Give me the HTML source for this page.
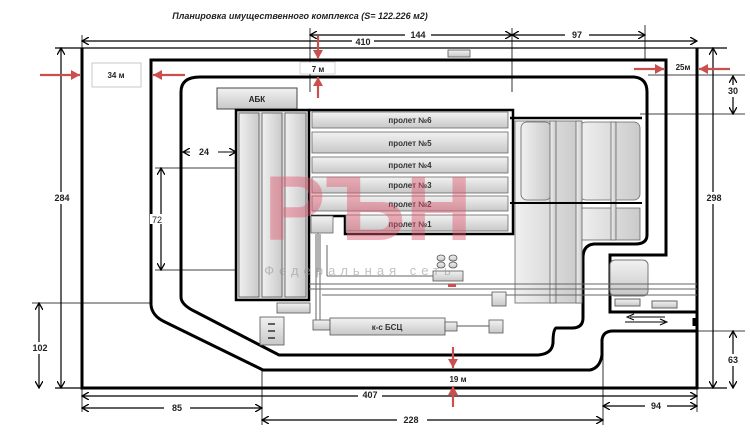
<!DOCTYPE html>
<html><head><meta charset="utf-8"><style>
html,body{margin:0;padding:0;background:#fff;}
svg{display:block;font-family:"Liberation Sans",sans-serif;}
</style></head><body>
<svg width="750" height="445" viewBox="0 0 750 445" xmlns="http://www.w3.org/2000/svg">
<defs>
<marker id="a" markerWidth="8" markerHeight="8" refX="7" refY="4" orient="auto-start-reverse" markerUnits="userSpaceOnUse"><path d="M0,0 L7,4 L0,8" fill="none" stroke="#000" stroke-width="1.3"/></marker>
<marker id="r" markerWidth="10" markerHeight="10" refX="9" refY="5" orient="auto" markerUnits="userSpaceOnUse"><path d="M0,0 L9,5 L0,10 Z" fill="#c9504f"/></marker>
<linearGradient id="g" x1="0" y1="0" x2="0" y2="1"><stop offset="0" stop-color="#f2f2f2"/><stop offset="1" stop-color="#c8c8c8"/></linearGradient>
<linearGradient id="gh" x1="0" y1="0" x2="1" y2="0"><stop offset="0" stop-color="#f0f0f0"/><stop offset="1" stop-color="#cacaca"/></linearGradient>
</defs>
<text x="300" y="19" font-size="9" font-weight="bold" font-style="italic" text-anchor="middle" fill="#222">Планировка имущественного комплекса  (S= 122.226 м2)</text>

<g fill="none" stroke="#000">
<path d="M82,48 V388 H697 V48" stroke-width="3"/>
<line x1="55" y1="48" x2="727" y2="48" stroke-width="1.2"/>
<line x1="55" y1="388" x2="727" y2="388" stroke-width="1.2"/>
<path d="M151,305 V60 H666 V255 H610 V312 H697" stroke-width="3"/>
<path d="M151,305 Q152,316 165,322 L263,370 H590 Q600,368 602,355 V340 Q603,331 613,331 H697" stroke-width="3"/>
<path d="M181,297 V92 Q181,77 200,77 H634 Q647,78 647,92 V235 Q647,244 635,244 H594 Q583,245 583,258 V318 Q583,328 572,328 H556 Q553,330 553,343 Q552,354 538,355 H279 L196,312 Q181,305 181,297" stroke-width="3"/>
</g>

<g stroke="#000" stroke-width="1.2" fill="none">
<line x1="82" y1="41" x2="697" y2="41" marker-start="url(#a)" marker-end="url(#a)"/>
<line x1="310" y1="35" x2="512" y2="35" marker-start="url(#a)" marker-end="url(#a)"/>
<line x1="512" y1="35" x2="645" y2="35" marker-start="url(#a)" marker-end="url(#a)"/>
<line x1="310" y1="28" x2="310" y2="92" stroke-width="0.8"/>
<line x1="512" y1="28" x2="512" y2="92" stroke-width="0.8"/>
<line x1="645" y1="25" x2="645" y2="60" stroke-width="0.8"/>
<line x1="82" y1="35" x2="82" y2="48" stroke-width="0.8"/>
<line x1="61" y1="48" x2="61" y2="388" marker-start="url(#a)" marker-end="url(#a)"/>
<line x1="39" y1="303" x2="39" y2="388" marker-start="url(#a)" marker-end="url(#a)"/>
<line x1="32" y1="303" x2="151" y2="303" stroke-width="0.7"/>
<line x1="713" y1="48" x2="713" y2="388" marker-start="url(#a)" marker-end="url(#a)"/>
<line x1="733" y1="76" x2="733" y2="114" marker-start="url(#a)" marker-end="url(#a)"/>
<line x1="648" y1="75" x2="745" y2="75" stroke-width="0.7"/>
<line x1="640" y1="114" x2="745" y2="114" stroke-width="0.7"/>
<line x1="733" y1="331" x2="733" y2="388" marker-start="url(#a)" marker-end="url(#a)"/>
<line x1="697" y1="331" x2="745" y2="331" stroke-width="0.7"/>
<line x1="82" y1="396" x2="697" y2="396" marker-start="url(#a)" marker-end="url(#a)"/>
<line x1="82" y1="408" x2="262" y2="408" marker-start="url(#a)" marker-end="url(#a)"/>
<line x1="262" y1="420" x2="603" y2="420" marker-start="url(#a)" marker-end="url(#a)"/>
<line x1="603" y1="406" x2="697" y2="406" marker-start="url(#a)" marker-end="url(#a)"/>
<line x1="82" y1="388" x2="82" y2="412" stroke-width="0.8"/>
<line x1="262" y1="370" x2="262" y2="425" stroke-width="0.8"/>
<line x1="603" y1="335" x2="603" y2="425" stroke-width="0.8"/>
<line x1="697" y1="388" x2="697" y2="412" stroke-width="0.8"/>
<line x1="161" y1="168" x2="161" y2="270" marker-start="url(#a)" marker-end="url(#a)"/>
<line x1="155" y1="168" x2="236" y2="168" stroke-width="0.7"/>
<line x1="155" y1="270" x2="236" y2="270" stroke-width="0.7"/>
<line x1="183" y1="152" x2="236" y2="152" stroke-width="1" marker-start="url(#a)" marker-end="url(#a)"/>
</g>
<g font-size="9" font-weight="bold" text-anchor="middle" fill="#222">
<rect x="352" y="36" width="22" height="10" fill="#fff"/><text x="363" y="45">410</text>
<rect x="405" y="30" width="26" height="10" fill="#fff"/><text x="418" y="38">144</text>
<rect x="565" y="30" width="24" height="10" fill="#fff"/><text x="577" y="38">97</text>
<rect x="52" y="192" width="20" height="12" fill="#fff"/><text x="62" y="201">284</text>
<rect x="28" y="342" width="22" height="12" fill="#fff"/><text x="40" y="351">102</text>
<rect x="703" y="192" width="22" height="12" fill="#fff"/><text x="714" y="201">298</text>
<rect x="724" y="85" width="18" height="12" fill="#fff"/><text x="733" y="94">30</text>
<rect x="724" y="354" width="18" height="12" fill="#fff"/><text x="733" y="363">63</text>
<rect x="358" y="390" width="24" height="10" fill="#fff"/><text x="370" y="398">407</text>
<rect x="164" y="402" width="26" height="10" fill="#fff"/><text x="177" y="411">85</text>
<rect x="397" y="414" width="30" height="10" fill="#fff"/><text x="411" y="423">228</text>
<rect x="645" y="400" width="22" height="10" fill="#fff"/><text x="656" y="409">94</text>
<rect x="190" y="146" width="28" height="10" fill="#fff"/><text x="204" y="155">24</text>
<rect x="150" y="214" width="22" height="10" fill="#fff"/><text x="157" y="223" font-weight="normal">72</text>
</g>

<g stroke="#c9504f" stroke-width="2.2">
<line x1="40" y1="75" x2="80" y2="75" marker-end="url(#r)"/>
<line x1="185" y1="75" x2="153" y2="75" marker-end="url(#r)"/>
<line x1="318" y1="36" x2="318" y2="59" marker-end="url(#r)"/>
<line x1="318" y1="98" x2="318" y2="77" marker-end="url(#r)"/>
<line x1="634" y1="69" x2="664" y2="69" marker-end="url(#r)"/>
<line x1="730" y1="69" x2="699" y2="69" marker-end="url(#r)"/>
<line x1="453" y1="347" x2="453" y2="368" marker-end="url(#r)"/>
<line x1="453" y1="407" x2="453" y2="386" marker-end="url(#r)"/>
</g>
<g font-size="8" font-weight="bold" fill="#222" text-anchor="middle">
<rect x="92" y="63" width="49" height="24" fill="#fff" stroke="#bbb" stroke-width="0.8"/><text x="116" y="78">34 м</text>
<rect x="300" y="62" width="35" height="12" fill="#fff" stroke="#bbb" stroke-width="0.6"/><text x="318" y="72">7 м</text>
<text x="683" y="70">25м</text>
<text x="458" y="382">19 м</text>
</g>
<rect x="448" y="50" width="22" height="7" fill="url(#g)" stroke="#555" stroke-width="0.8"/>

<rect x="217" y="88" width="80" height="21" fill="url(#g)" stroke="#444" stroke-width="1"/>
<text x="257" y="102" font-size="8" font-weight="bold" text-anchor="middle" fill="#222">АБК</text>
<rect x="236" y="110" width="73" height="190" fill="#ddd" stroke="#000" stroke-width="2.5"/>
<g fill="url(#gh)" stroke="#555" stroke-width="0.8">
<rect x="239" y="113" width="20" height="184"/><rect x="262" y="113" width="20" height="184"/><rect x="285" y="113" width="21" height="184"/>
</g>
<path d="M309,110 H513 V234 H345 V216 H311" fill="none" stroke="#000" stroke-width="2.5"/>
<g fill="url(#g)" stroke="#666" stroke-width="0.8">
<rect x="312" y="112" width="196" height="16"/>
<rect x="312" y="132" width="196" height="21"/>
<rect x="312" y="157" width="196" height="16"/>
<rect x="312" y="177" width="196" height="16"/>
<rect x="312" y="196" width="196" height="15"/>
<rect x="346" y="215" width="162" height="16"/>
<rect x="311" y="216" width="22" height="17"/>
</g>
<g font-size="8" font-weight="bold" text-anchor="middle" fill="#333">
<text x="410" y="123">пролет №6</text>
<text x="410" y="146">пролет №5</text>
<text x="410" y="168">пролет  №4</text>
<text x="410" y="188">пролет №3</text>
<text x="410" y="207">пролет №2</text>
<text x="410" y="227">пролет №1</text>
</g>
<line x1="510" y1="118" x2="642" y2="118" stroke="#000" stroke-width="2.5"/>
<g fill="url(#gh)" stroke="#666" stroke-width="0.8">
<rect x="515" y="121" width="65" height="182"/>
<rect x="521" y="122" width="30" height="78" rx="6"/>
<rect x="580" y="122" width="60" height="78" rx="6"/>
<rect x="580" y="208" width="60" height="32"/>
<rect x="550" y="121" width="6" height="182"/><rect x="576" y="121" width="6" height="182"/><rect x="611" y="122" width="5" height="118"/>
</g>
<line x1="510" y1="203" x2="642" y2="203" stroke="#000" stroke-width="2"/>
<rect x="610" y="260" width="38" height="36" rx="5" fill="url(#g)" stroke="#777"/>
<rect x="615" y="299" width="25" height="7" fill="url(#g)" stroke="#666"/>
<rect x="652" y="301" width="25" height="7" fill="url(#g)" stroke="#666"/>
<line x1="694" y1="318" x2="694" y2="326" stroke="#000" stroke-width="3"/>
<g stroke="#000" stroke-width="1" fill="none">
<line x1="630" y1="317" x2="665" y2="317"/><path d="M634,314 L627,317 L634,320"/>
<line x1="625" y1="322" x2="665" y2="322"/><path d="M660,319 L667,322 L660,325"/>
</g>
<g stroke="#666" stroke-width="1" fill="none">
<line x1="309" y1="284" x2="697" y2="284"/>
<line x1="309" y1="289" x2="697" y2="289"/>
<line x1="322" y1="295" x2="697" y2="295"/>
<line x1="318" y1="233" x2="318" y2="272" /><line x1="327" y1="245" x2="327" y2="276"/>
<line x1="327" y1="276" x2="435" y2="276"/>
<line x1="316" y1="234" x2="316" y2="320"/><line x1="320" y1="234" x2="320" y2="320"/>
</g>
<g fill="url(#g)" stroke="#555" stroke-width="0.8">
<rect x="433" y="271" width="30" height="10"/>
<ellipse cx="441" cy="258" rx="4" ry="3"/><ellipse cx="453" cy="258" rx="4" ry="3"/>
<ellipse cx="441" cy="265" rx="4" ry="3"/><ellipse cx="453" cy="265" rx="4" ry="3"/>
<rect x="492" y="292" width="14" height="14"/>
<rect x="277" y="303" width="33" height="10"/>
<rect x="260" y="317" width="24" height="28"/>
<rect x="313" y="320" width="17" height="10"/>
<rect x="330" y="318" width="115" height="17"/>
<rect x="445" y="322" width="12" height="9"/>
<rect x="489" y="320" width="14" height="13"/>
</g>
<line x1="457" y1="326" x2="489" y2="326" stroke="#555"/>
<rect x="448" y="284" width="8" height="3" fill="#d05050"/>
<text x="387" y="330" font-size="8" font-weight="bold" text-anchor="middle" fill="#333">к-с  БСЦ</text>
<g stroke="#333" stroke-width="1.5"><line x1="268" y1="324" x2="275" y2="324"/><line x1="268" y1="331" x2="275" y2="331"/><line x1="268" y1="338" x2="275" y2="338"/></g>

<!-- watermark on top -->
<text x="368" y="240" font-size="92" font-weight="bold" text-anchor="middle" fill="#e05a70" opacity="0.45">РЪН</text>
<text x="360" y="275" font-size="13" text-anchor="middle" fill="#999" opacity="0.6" letter-spacing="5">Федеральная сеть</text>
</svg>
</body></html>
